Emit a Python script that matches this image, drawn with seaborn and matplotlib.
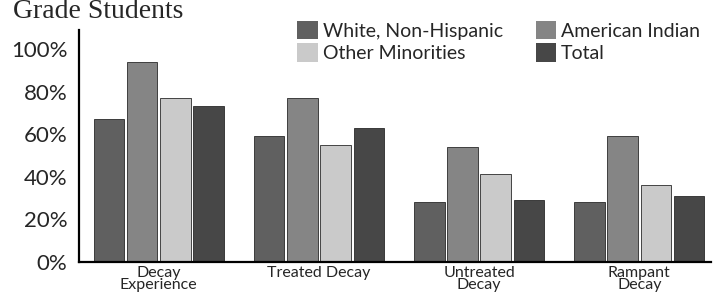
import matplotlib
matplotlib.use("Agg")
import matplotlib.pyplot as plt
import pandas as pd
import seaborn as sns

# Data (percent of students)
categories = ["Decay\nExperience", "Treated Decay", "Untreated\nDecay", "Rampant\nDecay"]
groups = ["White, Non-Hispanic", "American Indian", "Other Minorities", "Total"]
white = [67, 59, 28, 28]
american_indian = [94, 77, 54, 59]
other_minorities = [77, 55, 41, 36]
total = [73, 63, 29, 31]
y_ticks = [0, 20, 40, 60, 80, 100]
y_tick_labels = ["0%", "20%", "40%", "60%", "80%", "100%"]

colors = ["#606060", "#858585", "#cacaca", "#474747"]

df = pd.DataFrame({
    "category": categories * 4,
    "group": [g for g in groups for _ in categories],
    "value": white + american_indian + other_minorities + total,
})

sns.set_style("white")
plt.rcParams["font.family"] = ["Lato", "DejaVu Sans"]

fig = plt.figure(figsize=(7.15, 2.99), dpi=100)
ax = fig.add_axes([0.110, 0.125, 0.885, 0.775])

sns.barplot(
    data=df, x="category", y="value", hue="group",
    order=categories, hue_order=groups, palette=colors,
    width=0.83, gap=0.08, edgecolor="#2a2a2a", linewidth=0.6,
    errorbar=None, ax=ax,
)

ax.set_xlim(-0.5, 3.45)
ax.set_ylim(0, 109)
ax.set_yticks(y_ticks)
ax.set_yticklabels(y_tick_labels, fontsize=16)
ax.tick_params(axis="both", length=0, pad=8)
ax.tick_params(axis="x", labelsize=11.5, pad=3)
for lbl in ax.get_xticklabels():
    lbl.set_linespacing(0.8)
ax.set_xlabel("")
ax.set_ylabel("")
sns.despine(ax=ax)
for side in ["left", "bottom"]:
    ax.spines[side].set_color("black")
    ax.spines[side].set_linewidth(1.6)

# Legend in two columns, no frame (columns fill top to bottom)
handles, labels = ax.get_legend_handles_labels()
for h in handles:
    h.set_edgecolor("none")
order = [0, 2, 1, 3]
ax.legend(
    [handles[i] for i in order], [labels[i] for i in order], ncol=2, frameon=False,
    loc="upper left", bbox_to_anchor=(0.416, 0.93), bbox_transform=fig.transFigure,
    fontsize=14, handlelength=1.05, handleheight=1.05, handletextpad=0.25,
    columnspacing=1.7, labelspacing=0.2, borderpad=0, borderaxespad=0,
)

# Title (cut off at the top edge in the reference)
fig.text(0.018, 0.94, "Grade Students", fontsize=20,
         family=["Liberation Serif", "DejaVu Serif"], va="baseline", ha="left")

fig.savefig("out.png", dpi=100)
